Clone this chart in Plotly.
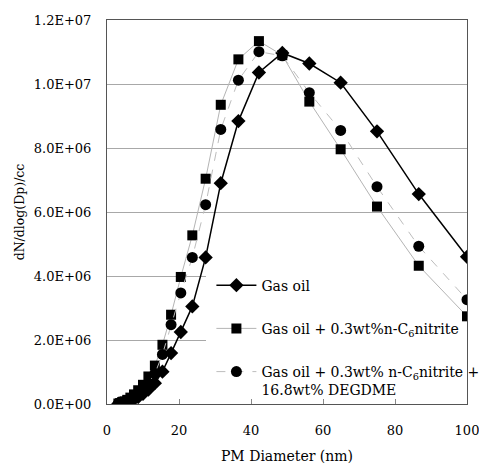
import plotly.graph_objects as go

diameter_nm = [3.16, 3.65, 4.22, 4.87, 5.62, 6.49, 7.50, 8.66, 10.0, 11.5, 13.3, 15.4, 17.8,
               20.5, 23.7, 27.4, 31.6, 36.5, 42.2, 48.7, 56.2, 64.9, 75.0, 86.6, 100.0]

gas_oil = [0.010e6, 0.015e6, 0.025e6, 0.040e6, 0.070e6, 0.10e6, 0.15e6, 0.22e6, 0.32e6, 0.45e6,
           0.65e6, 1.01e6, 1.59e6, 2.25e6, 3.05e6, 4.58e6, 6.90e6, 8.84e6, 1.036e7, 1.097e7,
           1.064e7, 1.004e7, 8.52e6, 6.56e6, 4.60e6]

gas_oil_nitrite = [0.015e6, 0.030e6, 0.050e6, 0.080e6, 0.13e6, 0.20e6, 0.30e6, 0.43e6, 0.60e6, 0.86e6,
                   1.20e6, 1.85e6, 2.79e6, 3.97e6, 5.27e6, 7.04e6, 9.35e6, 1.077e7, 1.134e7, 1.090e7,
                   9.45e6, 7.96e6, 6.17e6, 4.32e6, 2.74e6]

gas_oil_nitrite_degdme = [0.012e6, 0.022e6, 0.040e6, 0.060e6, 0.10e6, 0.15e6, 0.22e6, 0.32e6, 0.45e6, 0.65e6,
                          0.95e6, 1.55e6, 2.48e6, 3.47e6, 4.58e6, 6.23e6, 8.58e6, 1.012e7, 1.101e7, 1.088e7,
                          9.73e6, 8.55e6, 6.79e6, 4.93e6, 3.26e6]

series_names = ["Gas oil",
                "Gas oil + 0.3wt%n-C<sub>6</sub>nitrite",
                "Gas oil + 0.3wt% n-C<sub>6</sub>nitrite +<br>16.8wt% DEGDME"]

y_tick_values = [0, 2e6, 4e6, 6e6, 8e6, 1e7, 1.2e7]
y_tick_labels = ["0.0E+00", "2.0E+06", "4.0E+06", "6.0E+06", "8.0E+06", "1.0E+07", "1.2E+07"]
x_tick_values = [0, 20, 40, 60, 80, 100]

FONT = "DejaVu Serif"

fig = go.Figure()

fig.add_trace(go.Scatter(
    x=diameter_nm, y=gas_oil, name=series_names[0], mode="lines+markers",
    line=dict(color="black", width=1.5),
    marker=dict(symbol="diamond", size=11, color="black"),
    legendgroup="a"))

fig.add_trace(go.Scatter(
    x=diameter_nm, y=gas_oil_nitrite, name=series_names[1], mode="lines+markers",
    line=dict(color="#b4b4b4", width=1),
    marker=dict(symbol="square", size=10, color="black"),
    legendgroup="b"))

fig.add_trace(go.Scatter(
    x=diameter_nm, y=gas_oil_nitrite_degdme, name=series_names[2], mode="lines+markers",
    line=dict(color="#bdbdbd", width=1, dash="dash"),
    marker=dict(symbol="circle", size=11, color="black"),
    legendgroup="c"))

# white area behind legend hides the gridlines (drawn between grid and data)
fig.add_shape(type="rect", xref="x", yref="y", x0=27.5, x1=100, y0=0.05e6, y1=4.35e6,
              fillcolor="white", line=dict(width=0), layer="between")

fig.update_layout(
    width=479, height=464,
    margin=dict(l=107, r=12, t=20, b=60, autoexpand=False),
    paper_bgcolor="white", plot_bgcolor="white",
    font=dict(family=FONT, color="black", size=13),
    showlegend=True,
    legend=dict(x=0.29, y=0.35, xanchor="left", yanchor="top",
                bgcolor="rgba(0,0,0,0)", borderwidth=0,
                font=dict(family=FONT, size=14, color="black"),
                itemwidth=40, tracegroupgap=22, valign="top"),
)

fig.update_xaxes(range=[0, 100], tickvals=x_tick_values, showgrid=False, zeroline=False,
                 showline=True, linecolor="#555", linewidth=1, mirror=True,
                 ticks="inside", ticklen=5, tickcolor="#888",
                 ticklabelstandoff=14, ticklabeloverflow="allow",
                 tickfont=dict(family=FONT, size=13),
                 title=dict(text="PM Diameter (nm)", font=dict(family=FONT, size=14), standoff=17))

fig.update_yaxes(range=[0, 1.2e7], tickvals=y_tick_values, ticktext=y_tick_labels,
                 showgrid=True, gridcolor="#a8a8a8", gridwidth=1, zeroline=False,
                 showline=True, linecolor="#555", linewidth=1, mirror=True,
                 ticks="", ticklabelstandoff=12,
                 tickfont=dict(family=FONT, size=13),
                 title=dict(text="dN/dlog(Dp)/cc", font=dict(family=FONT, size=12.5), standoff=6))

fig.write_html("out.html", config={"displayModeBar": False},
               post_script="document.body.style.margin='0px';")
